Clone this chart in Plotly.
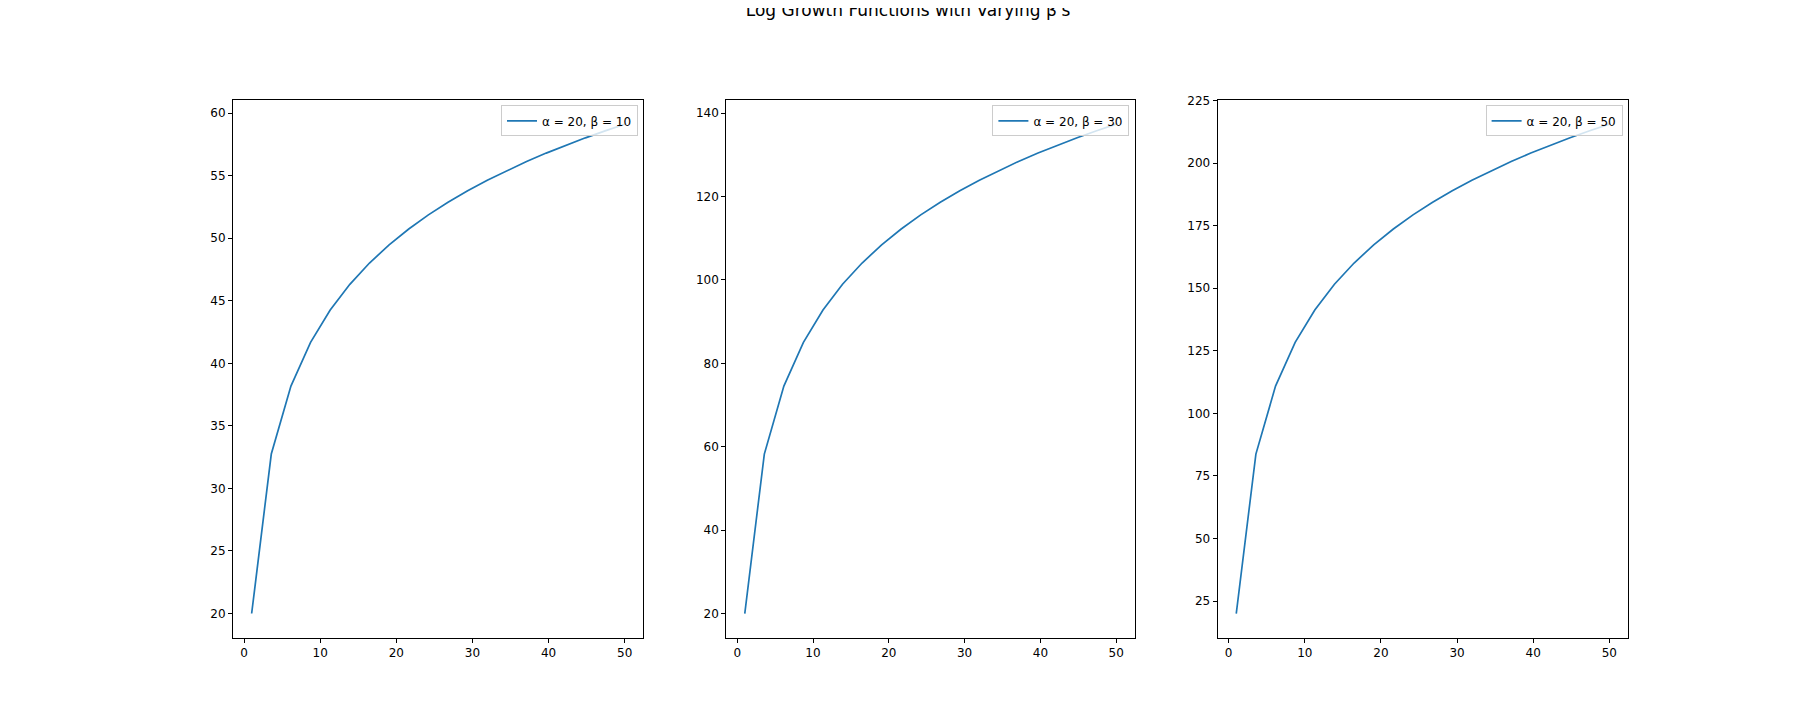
import plotly.graph_objects as go

# x samples (20 points between 1 and 50)
x = [1, 3.579, 6.158, 8.737, 11.316, 13.895, 16.474, 19.053, 21.632, 24.211,
     26.789, 29.368, 31.947, 34.526, 37.105, 39.684, 42.263, 44.842, 47.421, 50]

y_b10 = [20, 32.75, 38.18, 41.68, 44.26, 46.32, 48.02, 49.47, 50.74, 51.87,
         52.88, 53.80, 54.64, 55.42, 56.14, 56.81, 57.44, 58.03, 58.59, 59.12]
y_b30 = [20, 58.25, 74.54, 85.04, 92.78, 98.96, 104.06, 108.41, 112.22, 115.61,
         118.64, 121.40, 123.92, 126.26, 128.42, 130.43, 132.32, 134.09, 135.77, 137.36]
y_b50 = [20, 83.75, 110.9, 128.4, 141.3, 151.6, 160.1, 167.35, 173.7, 179.35,
         184.4, 189.0, 193.2, 197.1, 200.7, 204.05, 207.2, 210.15, 212.95, 215.6]

labels = ["α = 20, β = 10", "α = 20, β = 30", "α = 20, β = 50"]
series = [y_b10, y_b30, y_b50]

domains = [(0.125, 0.353), (0.399, 0.626), (0.672, 0.900)]
yranges = [(18.04, 61.08), (14.13, 143.23), (10.22, 225.38)]
ydtick = [5, 20, 25]

fig = go.Figure()
axis_style = dict(showline=True, linecolor="black", mirror=True, ticks="outside",
                  ticklen=4, tickcolor="black", showgrid=False, zeroline=False)
layout = {}
for i, (ys, lab) in enumerate(zip(series, labels)):
    n = "" if i == 0 else str(i + 1)
    leg = "legend" if i == 0 else "legend" + str(i + 1)
    fig.add_trace(go.Scatter(x=x, y=ys, mode="lines", name=lab,
                             line=dict(color="#1f77b4", width=1.7),
                             xaxis="x" + n, yaxis="y" + n, legend=leg))
    layout["xaxis" + n] = dict(domain=domains[i], range=[-1.45, 52.45], dtick=10,
                               anchor="y" + n, **axis_style)
    layout["yaxis" + n] = dict(domain=[0.126, 0.88], range=yranges[i], dtick=ydtick[i],
                               anchor="x" + n, **axis_style)
    layout[leg] = dict(x=domains[i][1] - 0.003, y=0.872, xanchor="right", yanchor="top",
                       bgcolor="rgba(255,255,255,0.8)", bordercolor="#cccccc",
                       borderwidth=1, font=dict(size=12))

fig.update_layout(
    **layout,
    title=dict(text="Log Growth Functions with Varying β's", x=0.5, y=0.997,
               xanchor="center", yanchor="middle", font=dict(size=17, color="black")),
    font=dict(family="DejaVu Sans", size=12, color="black"),
    plot_bgcolor="white", paper_bgcolor="white",
    margin=dict(l=0, r=0, t=0, b=0),
    width=1800, height=720, showlegend=True,
)

fig.write_html("out.html")
